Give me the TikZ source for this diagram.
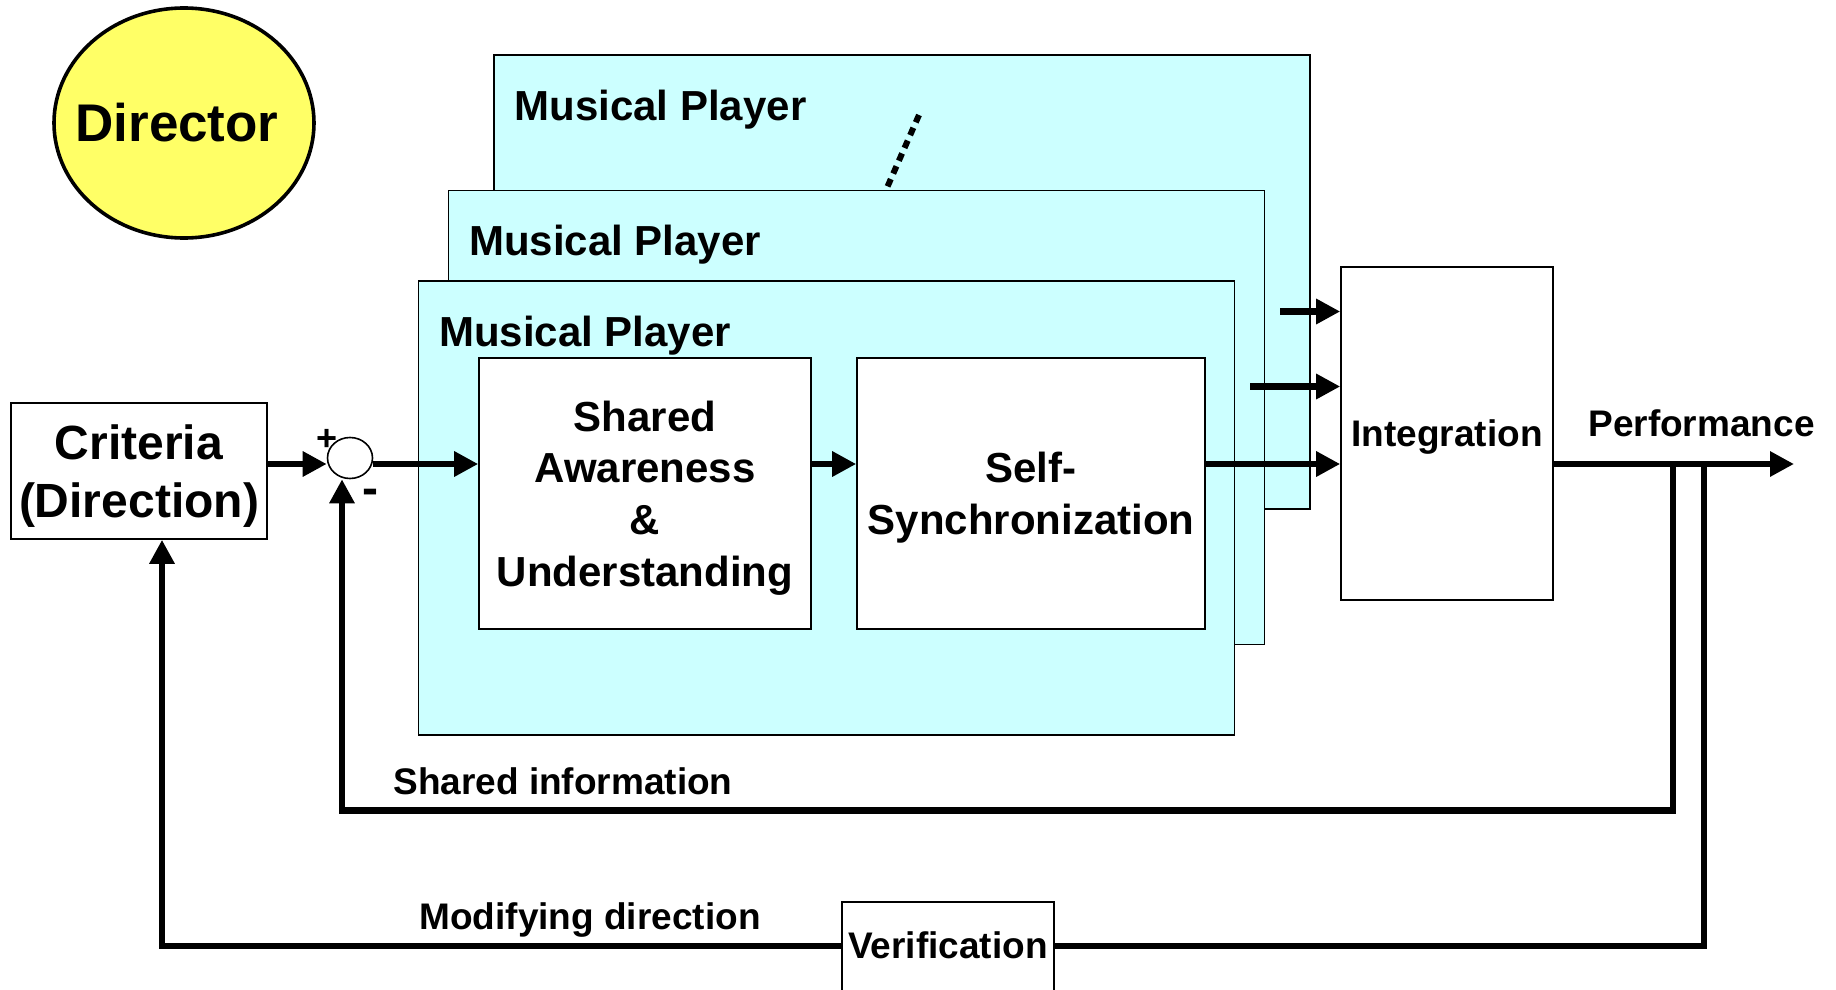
\documentclass[tikz,border=0pt]{standalone}
\usepackage{fontspec}
\setmainfont{Liberation Sans}
\usetikzlibrary{arrows.meta,calc,shapes.geometric}

\definecolor{playercyan}{HTML}{CCFFFF}
\definecolor{directoryellow}{HTML}{FFFF66}

\newcommand\fsz[2]{\fontsize{#1}{#2}\selectfont\bfseries}
\newcommand\player[2]{
	\node[playerbox] (#1) at (#2) {};
	\node[playerlbl] (#1lbl) at ($(#1.north west)+(21,66)$) {Musical Player};
}

\begin{document}
\begin{tikzpicture}[x=0.5pt, y=-0.5pt,
	box/.style={draw, line width=0.8pt, fill=white, inner sep=0pt, align=center},
	playerbox/.style={draw, line width=0.8pt, fill=playercyan, minimum width=408pt, minimum height=227pt, inner sep=0pt},
	playerlbl/.style={anchor=base west, inner sep=0pt, font=\fsz{21}{25}},
	lbl/.style={anchor=base west, inner sep=0pt, font=\fsz{18.5}{22}},
	wire/.style={line width=3.2pt},
	arr/.style={wire, -{Triangle[length=12pt,width=12pt]}}]
	\useasboundingbox (0,0) rectangle (1836,990);

    % Director
	\node[box, ellipse, line width=1.8pt, fill=directoryellow, minimum width=130pt, minimum height=115pt, font=\fsz{26.5}{30}] (director) at (184,123) {\makebox[0pt]{Director\kern7pt}};

    % Stack of players, back to front
	\player{p3}{902,282}
	\player{p2}{856.5,417.5}
	\player{p1}{826.5,508}
	\draw[line width=3pt, dash pattern=on 4pt off 3pt] (919,115) -- (886,190);

	\node[box, minimum width=166pt, minimum height=135.5pt, text depth=-1.5pt, font=\fsz{21}{25.8}] (sa) at (645,493.5) {Shared\\Awareness\\\&\\Understanding};
	\node[box, minimum width=174pt, minimum height=135.5pt, text depth=-1.5pt, font=\fsz{21}{25.8}] (ss) at (1031,493.5) {Self-\\Synchronization};
	\node[box, minimum width=106pt, minimum height=166.5pt, text depth=0pt, font=\fsz{18.5}{22}] (integ) at (1447,433.5) {Integration};

    % Input side
	\node[box, minimum width=128pt, minimum height=68pt, text depth=0pt, font=\fsz{24}{29}] (crit) at (139,471) {Criteria\\(Direction)};
	\node[box, ellipse, minimum width=22.5pt, minimum height=20.5pt] (sum) at (350,458) {};
	\node[font=\fsz{18}{20}, inner sep=0pt] (plus) at (327,440) {+};
	\node[font=\fsz{24}{26}, inner sep=0pt] (minus) at (370,497) {-};

	\node[box, anchor=base, text height=28pt, text depth=26pt, minimum width=106pt, font=\fsz{18.5}{22}] (verif) at (948,958) {Verification};

	\coordinate (ml) at (0,464);
	\coordinate (out) at (1794,464);
	\coordinate (fb1) at (1673,464);
	\coordinate (fb2) at (1704,464);

    % Forward path
	\draw[arr] (crit.east |- ml) -- (sum.west |- ml);
	\draw[arr] (sum.east |- ml) -- (sa.west |- ml);
	\draw[arr] (sa.east |- ml) -- (ss.west |- ml);
	\draw[arr] (ss.east |- ml) -- (integ.west |- ml);
	\draw[arr] ($(integ.west)+(-90,-47)$) -- ($(integ.west)+(0,-47)$);
	\draw[arr] ($(integ.west)+(-60,-122)$) -- ($(integ.west)+(0,-122)$);
	\draw[arr] (integ.east |- ml) -- (out);
	\node[lbl] (perf) at (1588,436) {Performance};

    % Feedback loops
	\draw[arr] (fb1) |- ($(sum.south)+(-8,331)$) -- ($(sum.south)+(-8,0)$);
	\node[lbl] (shinfo) at (393,794) {Shared information};
	\draw[wire] (fb2) |- ($(verif.base east)+(0,-12)$);
	\draw[arr] ($(verif.base west)+(0,-12)$) -| ($(crit.south)+(23,0)$);
	\node[lbl] (moddir) at (419,929) {Modifying direction};
\end{tikzpicture}
\end{document}
